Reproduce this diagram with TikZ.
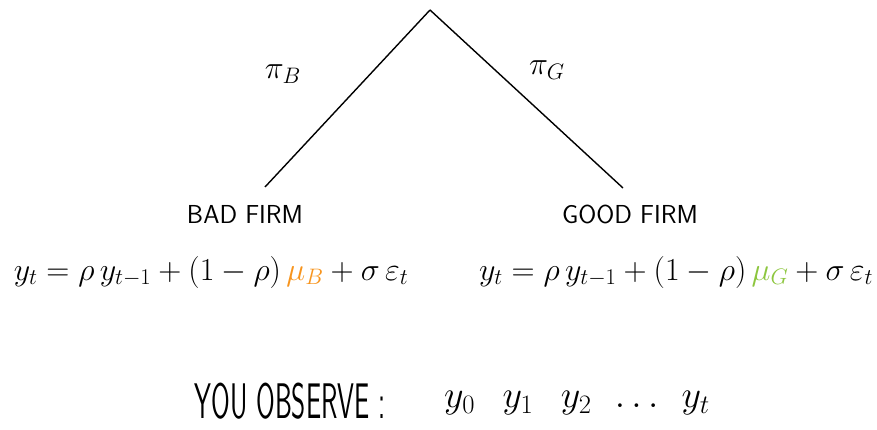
\documentclass[tikz,border=0pt]{standalone}
\usepackage{fix-cm}
\usepackage{amsmath}
\usepackage{fontspec}
\usetikzlibrary{positioning}

\definecolor{badorange}{RGB}{247,148,29}
\definecolor{goodgreen}{RGB}{141,198,63}

\tikzset{
    firm/.style={font=\sffamily\fontsize{26}{28}\selectfont, inner sep=2pt},
    prob/.style={font=\fontsize{32}{34}\selectfont, inner sep=0pt},
    law/.style={font=\fontsize{32}{34}\selectfont, inner sep=0pt},
}

\begin{document}
\begin{tikzpicture}[x=1pt, y=-1pt]
    % Fix the page to the reference size
    \useasboundingbox (0,0) rectangle (877,430);

    % Root and the two branch ends
    \coordinate (top) at (430,10);
    \coordinate (badend) at (265,187);
    \coordinate (goodend) at (623,188);

    % Draw the two branches
    \draw[line width=1.4pt] (top) -- (badend);
    \draw[line width=1.4pt] (top) -- (goodend);

    % Branch probabilities
    \node[prob] (pib) at (283,74) {$\pi_B$};
    \node[prob] (pig) at (547,70) {$\pi_G$};

    % Firm types
    \node[firm] (bad) at (245,214) {BAD FIRM};
    \node[firm] (good) at (630,214) {GOOD FIRM};

    % Laws of motion under each type
    \node[law] (lawb) at (211,272)
        {$y_t = \rho\, y_{t-1} + (1-\rho)\,{\color{badorange}\mu_B} + \sigma\,\varepsilon_t$};
    \node[law] (lawg) at (676,272)
        {$y_t = \rho\, y_{t-1} + (1-\rho)\,{\color{goodgreen}\mu_G} + \sigma\,\varepsilon_t$};

    % What the econometrician sees
    \node[font=\sffamily\fontsize{50}{52}\selectfont, xscale=0.54, inner sep=0pt] (obs) at (290,401) {YOU OBSERVE :};
    \node[font=\fontsize{38}{40}\selectfont, inner sep=0pt] (seq) at (577,403) {$y_0\;\;\, y_1\;\;\, y_2\;\, \dots\;\, y_t$};
\end{tikzpicture}
\end{document}
